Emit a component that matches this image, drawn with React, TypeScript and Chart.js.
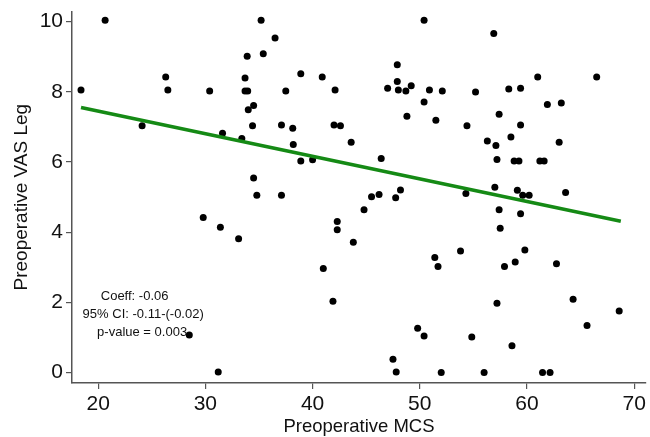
import React, { useEffect, useRef } from "react";
import { Chart, registerables } from "chart.js";

Chart.register(...registerables);

const MCS = [
  18.4, 20.65, 24.1, 26.3, 26.5, 30.4, 31.6, 33.4, 33.9, 33.7, 33.7, 33.95, 34.0, 34.5, 34.4, 34.5, 34.8,
  35.2, 36.5, 35.4, 37.1, 37.5, 37.1, 38.15, 38.2, 38.9, 38.9, 40.0, 40.9, 42.1, 42.0, 42.6, 43.6, 46.4,
  47.0, 47.9, 47.9, 48.0, 48.7, 49.2, 48.8, 50.4, 50.4, 50.9, 51.5, 45.5, 46.2, 47.75, 48.2, 56.9, 52.1,
  55.2, 58.3, 59.4, 61.0, 66.5, 54.4, 57.4, 61.9, 63.2, 59.4, 56.3, 57.1, 58.5, 63.0, 57.2, 58.8, 59.25,
  61.2, 61.6, 54.3, 57.0, 59.1, 59.6, 60.2, 63.6, 29.8, 31.4, 33.1, 28.5, 31.2, 44.8, 42.3, 42.3, 43.8,
  41.0, 41.9, 49.8, 50.4, 47.5, 47.8, 51.4, 51.7, 52.0, 57.4, 59.4, 57.5, 53.8, 59.8, 58.9, 57.9, 62.75,
  64.3, 57.2, 65.6, 68.6, 54.85, 58.6, 56.0, 61.45, 62.15,
];
const VAS = [
  8.05, 10.04, 7.03, 8.42, 8.05, 8.02, 6.82, 6.67, 9.01, 8.39, 8.02, 8.02, 7.49, 7.61, 7.03, 5.54, 5.05,
  10.04, 9.53, 9.08, 5.05, 8.02, 7.05, 6.96, 6.5, 8.51, 6.03, 6.06, 8.42, 8.05, 7.05, 7.03, 6.56, 6.1,
  8.1, 8.77, 8.29, 8.05, 8.02, 8.17, 7.3, 10.04, 7.71, 8.05, 7.19, 5.01, 5.07, 4.98, 5.2, 9.66, 8.02,
  7.99, 8.08, 8.1, 8.42, 8.42, 7.03, 7.36, 7.64, 7.68, 7.05, 6.6, 6.47, 6.71, 6.56, 6.07, 6.03, 6.03,
  6.03, 6.03, 5.1, 5.28, 5.19, 5.05, 5.05, 5.13, 4.42, 4.14, 3.81, 1.07, 0.01, 4.64, 4.3, 4.07, 3.71,
  2.96, 2.03, 1.26, 1.04, 0.38, 0.01, 3.28, 3.02, 0, 4.64, 4.52, 4.11, 3.46, 3.49, 3.15, 3.02, 3.1,
  2.09, 1.97, 1.34, 1.75, 1.01, 0.76, 0, 0, 0,
];

const FIT_X = [18.4, 68.75];
const FIT_Y = [7.55, 4.31];

const X_TICKS = [20, 30, 40, 50, 60, 70];
const Y_TICKS = [0, 2, 4, 6, 8, 10];

const ANNOT_LINES = ["Coeff: -0.06", "95% CI: -0.11-(-0.02)", "p-value = 0.003"];
const ANNOT_X = [23.4, 24.2, 24.1];
const ANNOT_Y = [2.17, 1.66, 1.13];

const FONT = "'Liberation Sans', Arial, Helvetica, sans-serif";

export default function App() {
  const ref = useRef<HTMLCanvasElement | null>(null);

  useEffect(() => {
    document.body.style.margin = "0";
    const canvas = ref.current;
    if (!canvas) return;

    const annotPlugin = {
      id: "annot",
      afterDatasetsDraw(chart: any) {
        const ctx = chart.ctx;
        const xs = chart.scales.x;
        const ys = chart.scales.y;
        ctx.save();
        ctx.font = `13px ${FONT}`;
        ctx.fillStyle = "#111";
        ctx.textAlign = "center";
        ctx.textBaseline = "middle";
        ANNOT_LINES.forEach((t, i) => {
          ctx.fillText(t, xs.getPixelForValue(ANNOT_X[i]), ys.getPixelForValue(ANNOT_Y[i]));
        });
        ctx.restore();
      },
    };

    const chart = new Chart(canvas, {
      type: "scatter",
      data: {
        datasets: [
          {
            type: "line",
            data: FIT_X.map((x, i) => ({ x, y: FIT_Y[i] })),
            borderColor: "#158a15",
            borderWidth: 3.5,
            pointRadius: 0,
            fill: false,
            order: 0,
          } as any,
          {
            data: MCS.map((x, i) => ({ x, y: VAS[i] })),
            backgroundColor: "#000",
            borderColor: "#000",
            pointRadius: 3.5,
            borderWidth: 0,
            order: 1,
          },
        ],
      },
      options: {
        responsive: false,
        animation: false,
        devicePixelRatio: 1,
        layout: { padding: { top: 10, right: 3, left: 0, bottom: 0 } },
        plugins: { legend: { display: false }, tooltip: { enabled: false } },
        scales: {
          x: {
            type: "linear",
            min: 17.56,
            max: 71.1,
            afterBuildTicks: (s: any) => {
              s.ticks = X_TICKS.map((v) => ({ value: v }));
            },
            afterFit: (s: any) => {
              s.height = 54;
            },
            grid: { drawOnChartArea: false, drawTicks: true, tickLength: 6, color: "#555", lineWidth: 1.2 },
            border: { display: true, color: "#555", width: 1.5 },
            ticks: { color: "#111", font: { family: FONT, size: 21 }, padding: 3, maxRotation: 0 },
            title: {
              display: true,
              text: "Preoperative MCS",
              color: "#111",
              font: { family: FONT, size: 18.5 },
              padding: { top: 0, bottom: -1 },
            },
          },
          y: {
            type: "linear",
            min: -0.3,
            max: 10.29,
            afterBuildTicks: (s: any) => {
              s.ticks = Y_TICKS.map((v) => ({ value: v }));
            },
            afterFit: (s: any) => {
              s.width = 72;
            },
            grid: { drawOnChartArea: false, drawTicks: true, tickLength: 6, color: "#555", lineWidth: 1.2 },
            border: { display: true, color: "#555", width: 1.5 },
            ticks: { color: "#111", font: { family: FONT, size: 21, lineHeight: 0.8 }, padding: 3 },
            title: {
              display: true,
              text: "Preoperative VAS Leg",
              color: "#111",
              font: { family: FONT, size: 19 },
              padding: { top: 10, bottom: 0 },
            },
          },
        },
      },
      plugins: [annotPlugin],
    } as any);

    return () => chart.destroy();
  }, []);

  return (
    <div style={{ width: 650, height: 437 }}>
      <canvas ref={ref} width={650} height={437} style={{ display: "block" }} />
    </div>
  );
}
